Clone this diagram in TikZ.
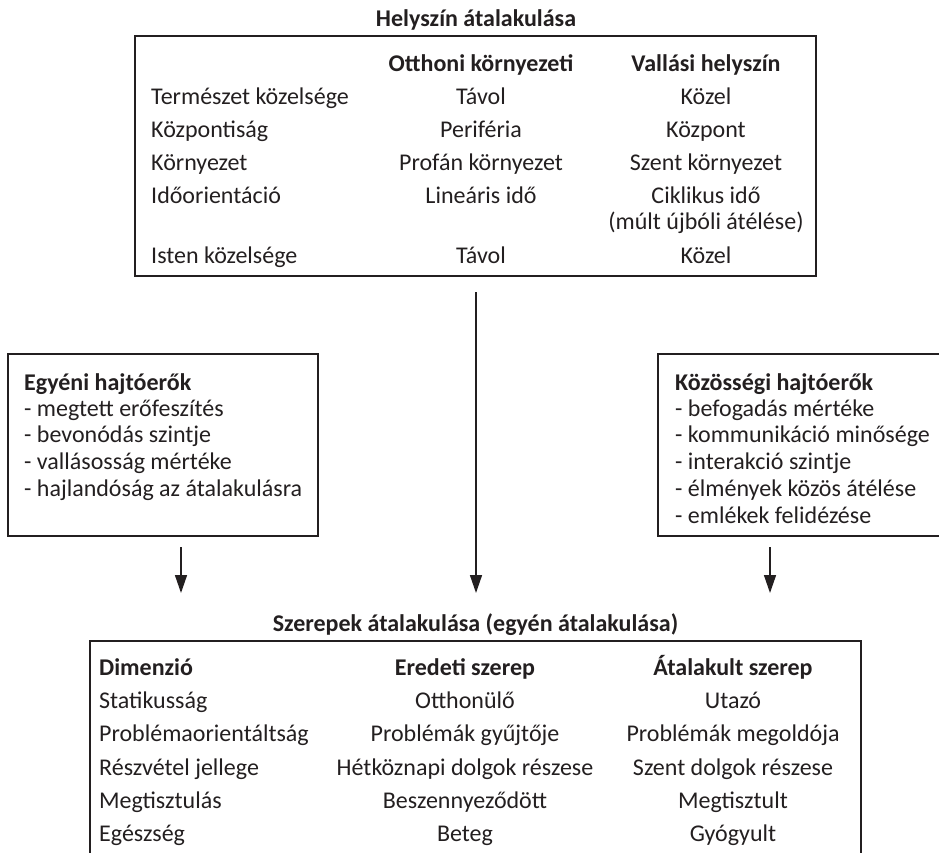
\documentclass[tikz,border=0pt]{standalone}
\usepackage{fontspec}
\setmainfont{Carlito}
\usetikzlibrary{arrows.meta}
\definecolor{ink}{HTML}{231F20}
\begin{document}
\begin{tikzpicture}[x=1pt,y=-1pt,
  boxst/.style={draw=ink, line width=1.6pt, inner sep=0pt, outer sep=0pt},
  txt/.style={inner sep=0pt, anchor=base, text=ink, font=\fontsize{24}{28}\selectfont},
  lt/.style={txt, anchor=base west},
  hd/.style={txt, font=\fontsize{24}{28}\selectfont\bfseries},
  hdl/.style={hd, anchor=base west},
  arr/.style={draw=ink, line width=1.5pt, -{Triangle[length=18pt,width=12pt]}}]
\useasboundingbox (0,0) rectangle (939,852);
% boxes
\node[boxst, minimum width=681pt, minimum height=240pt] (topbox) at (475.5,156) {};
\node[boxst, minimum width=310pt, minimum height=182pt] (leftbox) at (163,445) {};
\node[boxst, minimum width=287pt, minimum height=182pt] (rightbox) at (801.5,445) {};
\node[boxst, minimum width=771pt, minimum height=229pt] (botbox) at (475.5,755.5) {};
% top
\node[hd] (t0) at (476,26) {Helyszín átalakulása};
\node[hd] (h2) at (481,71) {Otthoni környezeti};
\node[hd] (h3) at (706,71) {Vallási helyszín};
\node[lt] (r1a) at (151,104.5) {Természet közelsége};
\node[txt] (r1b) at (481,104.5) {Távol};
\node[txt] (r1c) at (706,104.5) {Közel};
\node[lt] (r2a) at (151,137) {Központiság};
\node[txt] (r2b) at (481,137) {Periféria};
\node[txt] (r2c) at (706,137) {Központ};
\node[lt] (r3a) at (151,170) {Környezet};
\node[txt] (r3b) at (481,170) {Profán környezet};
\node[txt] (r3c) at (706,170) {Szent környezet};
\node[lt] (r4a) at (151,203) {Időorientáció};
\node[txt] (r4b) at (481,203) {Lineáris idő};
\node[txt] (r4c) at (706,203) {Ciklikus idő};
\node[txt] (r4d) at (706,229.5) {(múlt újbóli átélése)};
\node[lt] (r5a) at (151,263) {Isten közelsége};
\node[txt] (r5b) at (481,263) {Távol};
\node[txt] (r5c) at (706,263) {Közel};
% left box
\node[hdl] (l0) at (24,390) {Egyéni hajtóerők};
\node[lt] (l1) at (24,416) {- megtett erőfeszítés};
\node[lt] (l2) at (24,442.5) {- bevonódás szintje};
\node[lt] (l3) at (24,469.5) {- vallásosság mértéke};
\node[lt] (l4) at (24,496) {- hajlandóság az átalakulásra};
% right box
\node[hdl] (q0) at (675,390) {Közösségi hajtóerők};
\node[lt] (q1) at (675,416) {- befogadás mértéke};
\node[lt] (q2) at (675,442.5) {- kommunikáció minősége};
\node[lt] (q3) at (675,469.5) {- interakció szintje};
\node[lt] (q4) at (675,496) {- élmények közös átélése};
\node[lt] (q5) at (675,523) {- emlékek felidézése};
% arrows
\coordinate (a1s) at (476,292); \coordinate (a1e) at (476,593);
\coordinate (a2s) at (181,547); \coordinate (a2e) at (181,593);
\coordinate (a3s) at (770,547); \coordinate (a3e) at (770,593);
\draw[arr] (a1s) -- (a1e);
\draw[arr] (a2s) -- (a2e);
\draw[arr] (a3s) -- (a3e);
% bottom
\node[hd] (b0) at (475.5,631) {Szerepek átalakulása (egyén átalakulása)};
\node[hdl] (d1) at (99,675) {Dimenzió};
\node[hd] (d2) at (465,675) {Eredeti szerep};
\node[hd] (d3) at (733,675) {Átalakult szerep};
\node[lt] (s1a) at (99,708) {Statikusság};
\node[txt] (s1b) at (465,708) {Otthonülő};
\node[txt] (s1c) at (733,708) {Utazó};
\node[lt] (s2a) at (99,741) {Problémaorientáltság};
\node[txt] (s2b) at (465,741) {Problémák gyűjtője};
\node[txt] (s2c) at (733,741) {Problémák megoldója};
\node[lt] (s3a) at (99,775) {Részvétel jellege};
\node[txt] (s3b) at (465,775) {Hétköznapi dolgok részese};
\node[txt] (s3c) at (733,775) {Szent dolgok részese};
\node[lt] (s4a) at (99,808) {Megtisztulás};
\node[txt] (s4b) at (465,808) {Beszennyeződött};
\node[txt] (s4c) at (733,808) {Megtisztult};
\node[lt] (s5a) at (99,841) {Egészség};
\node[txt] (s5b) at (465,841) {Beteg};
\node[txt] (s5c) at (733,841) {Gyógyult};
\end{tikzpicture}
\end{document}
